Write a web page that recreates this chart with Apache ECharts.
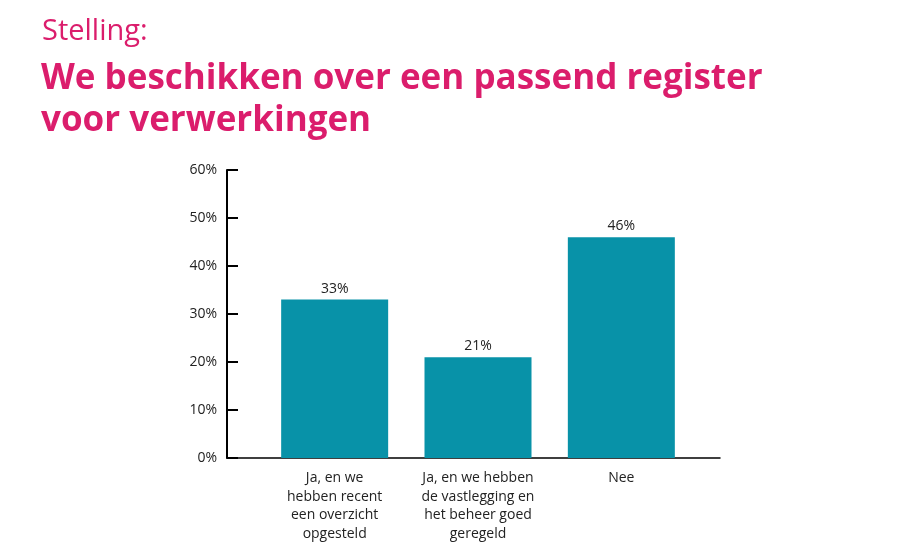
<!DOCTYPE html>
<html>
<head>
<meta charset="utf-8">
<title>Stelling</title>
<script src="https://cdn.jsdelivr.net/npm/echarts@6/dist/echarts.min.js"></script>
<style>
  html, body { margin: 0; padding: 0; background: #fff; }
  #main { width: 900px; height: 556px; }
</style>
</head>
<body>
<div id="main"></div>
<script>
// data
var categories = [
  'Ja, en we\nhebben recent\neen overzicht\nopgesteld',
  'Ja, en we hebben\nde vastlegging en\nhet beheer goed\ngeregeld',
  'Nee'
]
var values = [33, 21, 46]
var yTicks = [0, 10, 20, 30, 40, 50, 60]

var pink = '#db1d6c'
var teal = '#0892a8'
var font = '"Open Sans", "DejaVu Sans", sans-serif'

var chart = echarts.init(document.getElementById('main'))

chart.setOption({
  animation: false,
  backgroundColor: '#fff',
  title: [
    {
      text: 'Stelling:',
      left: 37,
      top: 12,
      textStyle: { color: pink, fontSize: 29, fontWeight: 'normal', fontFamily: font }
    },
    {
      text: 'We beschikken over een passend register\nvoor verwerkingen',
      left: 36,
      top: 53,
      textStyle: { color: pink, fontSize: 35, fontWeight: 'bold', fontFamily: font, lineHeight: 42 }
    }
  ],
  // grid 0 = bars, grid 1 = the visible axes (wider than the bars' band)
  grid: [
    { left: 263, right: 207, top: 170, bottom: 98 },
    { left: 227, right: 180, top: 170, bottom: 98 }
  ],
  xAxis: [
    {
      type: 'category',
      gridIndex: 0,
      data: categories,
      axisLine: { show: false },
      axisTick: { show: false },
      axisLabel: {
        color: '#222',
        fontSize: 14,
        lineHeight: 18.5,
        fontFamily: font,
        margin: 11,
        interval: 0
      }
    },
    {
      type: 'value',
      gridIndex: 1,
      min: 0,
      max: 1,
      axisLine: { show: true, lineStyle: { color: '#000', width: 1.5 } },
      axisTick: { show: false },
      axisLabel: { show: false },
      splitLine: { show: false }
    }
  ],
  yAxis: [
    {
      type: 'value',
      gridIndex: 0,
      min: yTicks[0],
      max: yTicks[yTicks.length - 1],
      interval: 10,
      show: false
    },
    {
      type: 'value',
      gridIndex: 1,
      min: yTicks[0],
      max: yTicks[yTicks.length - 1],
      interval: 10,
      axisLine: { show: true, lineStyle: { color: '#000', width: 2 } },
      axisTick: { show: true, inside: true, length: 11, lineStyle: { color: '#000', width: 2 } },
      axisLabel: {
        color: '#222',
        fontSize: 14,
        fontFamily: font,
        margin: 10,
        formatter: '{value}%'
      },
      splitLine: { show: false }
    }
  ],
  series: [
    {
      type: 'bar',
      xAxisIndex: 0,
      yAxisIndex: 0,
      data: values,
      barWidth: 107,
      itemStyle: { color: teal },
      label: {
        show: true,
        position: 'top',
        distance: 4,
        color: '#222',
        fontSize: 14,
        fontFamily: font,
        formatter: '{c}%'
      }
    }
  ]
})
</script>
</body>
</html>
